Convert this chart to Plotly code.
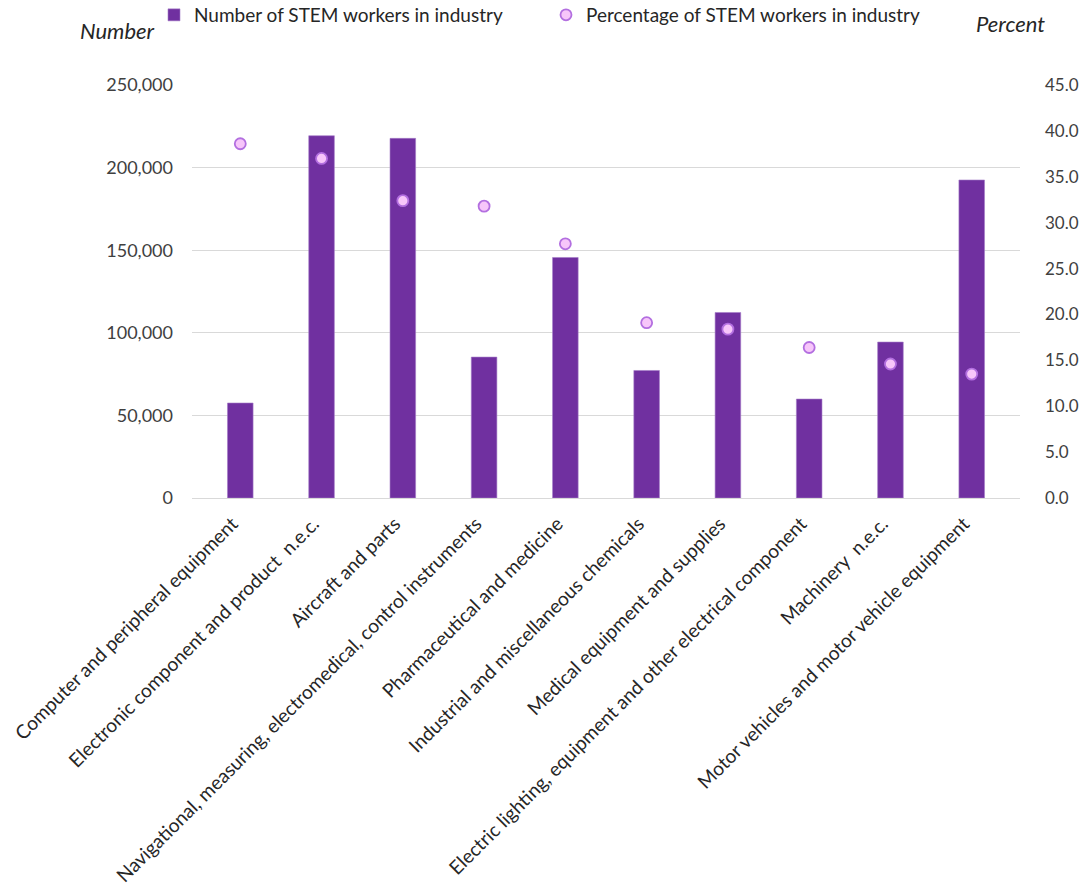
import plotly.graph_objects as go

categories = [
    "Computer and peripheral equipment",
    "Electronic component and product  n.e.c.",
    "Aircraft and parts",
    "Navigational, measuring, electromedical, control instruments",
    "Pharmaceutical and medicine",
    "Industrial and miscellaneous chemicals",
    "Medical equipment and supplies",
    "Electric lighting, equipment and other electrical component",
    "Machinery  n.e.c.",
    "Motor vehicles and motor vehicle equipment",
]
stem_workers = [57500, 219300, 217700, 85300, 145600, 77200, 112300, 59900, 94400, 192500]
stem_percent = [38.6, 37.0, 32.4, 31.8, 27.7, 19.1, 18.4, 16.4, 14.6, 13.5]

left_ticks = [0, 50000, 100000, 150000, 200000, 250000]
right_ticks = [0, 5, 10, 15, 20, 25, 30, 35, 40, 45]

FONT = "Lato"
TXT = "#404040"

fig = go.Figure()
fig.add_trace(go.Bar(
    x=categories, y=stem_workers, name="Number of STEM workers in industry",
    marker=dict(color="#7030A0", line=dict(color="#A57CC8", width=0.6)),
    width=0.315, yaxis="y",
))
fig.add_trace(go.Scatter(
    x=categories, y=stem_percent, name="Percentage of STEM workers in industry",
    mode="markers", yaxis="y2",
    marker=dict(size=11, color="#F7C6FA", line=dict(color="#B36FE0", width=1.8)),
))

fig.update_layout(
    width=1079, height=890, autosize=False,
    margin=dict(l=192, r=59, t=85, b=392, autoexpand=False),
    paper_bgcolor="white", plot_bgcolor="white",
    font=dict(family=FONT, size=19, color=TXT),
    showlegend=True,
    legend=dict(
        orientation="h", x=-0.0459, xanchor="left", y=1.1695, yanchor="middle",
        entrywidth=347, entrywidthmode="pixels",
        font=dict(family=FONT, size=19, color="#262626"),
        bgcolor="rgba(0,0,0,0)", itemclick=False,
    ),
    xaxis=dict(
        type="category", tickangle=-45, showgrid=False, showline=False,
        ticks="", zeroline=False, tickfont=dict(size=19.2, color="#262626"),
        ticklabelstandoff=10, ticklabelshift=-8,
    ),
    yaxis=dict(
        range=[0, 250000], tickvals=left_ticks, tickformat=",d",
        showgrid=True, gridcolor="#D9D9D9", gridwidth=1,
        zeroline=True, zerolinecolor="#D9D9D9", zerolinewidth=1,
        showline=False, ticks="", ticklabelstandoff=18,
        tickfont=dict(size=18, color=TXT),
    ),
    yaxis2=dict(
        range=[0, 45], tickvals=right_ticks, tickformat=".1f",
        overlaying="y", side="right", showgrid=False, zeroline=False,
        showline=False, ticks="", ticklabelstandoff=24,
        tickfont=dict(size=17, color=TXT),
    ),
    annotations=[
        dict(text="<i>Number</i>", xref="paper", yref="paper", x=-0.0894, y=1.1308,
             xanchor="center", yanchor="middle", showarrow=False,
             font=dict(family=FONT, size=22, color="#262626")),
        dict(text="<i>Percent</i>", xref="paper", yref="paper", x=0.988, y=1.1477,
             xanchor="center", yanchor="middle", showarrow=False,
             font=dict(family=FONT, size=22, color="#262626")),
    ],
)

fig.write_html("out.html")
